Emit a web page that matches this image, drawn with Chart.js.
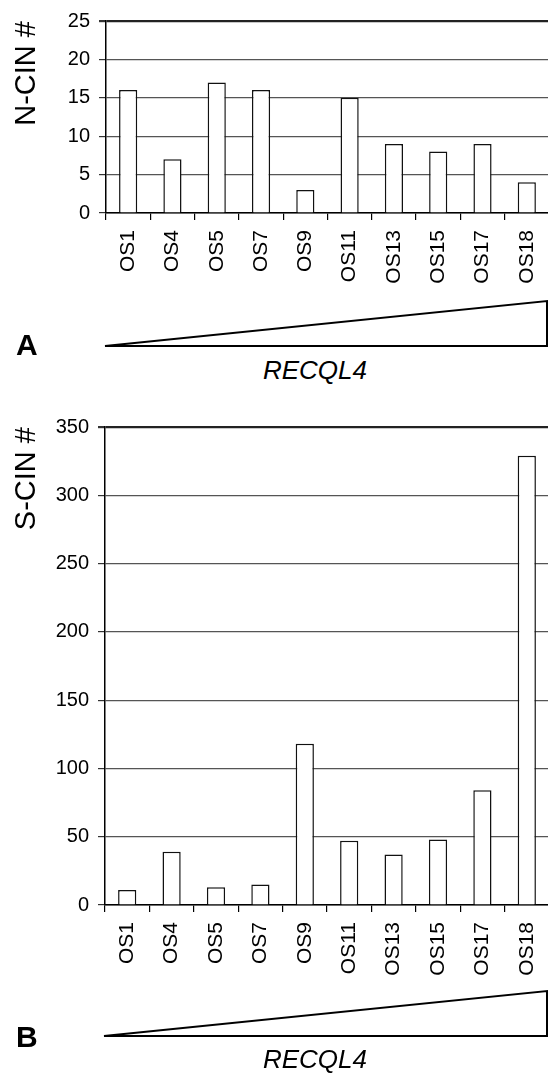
<!DOCTYPE html>
<html>
<head>
<meta charset="utf-8">
<script src="https://cdn.jsdelivr.net/npm/chart.js@4.4.1/dist/chart.umd.min.js"></script>
<style>
  html, body { margin: 0; padding: 0; width: 548px; height: 1074px; overflow: hidden; background: #fff; }
  body { position: relative; font-family: 'Liberation Sans', Arial, sans-serif; color: #000; }
  canvas { position: absolute; left: 0; }
  .panel { position: absolute; font-weight: bold; font-size: 30px; line-height: 30px; }
  .gene { position: absolute; width: 200px; text-align: center; font-style: italic; font-size: 26px; line-height: 26px; }
</style>
</head>
<body>
<canvas id="chartA" width="562" height="355" style="top:0"></canvas>
<canvas id="chartB" width="562" height="674" style="top:400px"></canvas>
<div class="panel" style="left:16px; top:330px">A</div>
<div class="gene" style="left:215px; top:357px">RECQL4</div>
<div class="panel" style="left:16px; top:1022px">B</div>
<div class="gene" style="left:215px; top:1046px">RECQL4</div>
<script>
// cell lines, ordered by RECQL4 expression
const cellLines = ['OS1', 'OS4', 'OS5', 'OS7', 'OS9', 'OS11', 'OS13', 'OS15', 'OS17', 'OS18'];
// numerical CIN (panel A)
const nCin = [16, 7, 17, 16, 3, 15, 9, 8, 9, 4];
// structural CIN (panel B)
const sCin = [11, 39, 13, 15, 118, 47, 37, 48, 84, 329];

const FONT = "'Liberation Sans', Arial, sans-serif";
Chart.defaults.color = '#000';
Chart.defaults.font.family = FONT;

// wedge under the x labels (RECQL4 rising left to right)
const wedge = {
    id: 'wedge',
    afterDraw(chart, args, opts) {
        const { ctx, chartArea } = chart;
        const yBase = chartArea.bottom + opts.base;
        const yTop = chartArea.bottom + opts.top;
        const xRight = chart.width - opts.inset;
        ctx.save();
        ctx.beginPath();
        ctx.moveTo(chartArea.left - 1, yBase);
        ctx.lineTo(xRight, yBase);
        ctx.lineTo(xRight, yTop);
        ctx.closePath();
        ctx.lineWidth = 2;
        ctx.strokeStyle = '#000';
        ctx.stroke();
        ctx.restore();
    }
};

function makeChart(id, values, title, yMax, step, opt) {
    return new Chart(document.getElementById(id), {
        type: 'bar',
        data: {
            labels: cellLines,
            datasets: [{
                data: values,
                backgroundColor: '#fff',
                borderColor: '#111',
                borderWidth: 1.5,
                categoryPercentage: 1,
                barPercentage: 0.41
            }]
        },
        plugins: [wedge],
        options: {
            responsive: false,
            animation: false,
            layout: { padding: { top: opt.padTop, bottom: opt.padBottom, left: 0, right: 0 } },
            plugins: {
                legend: { display: false },
                tooltip: { enabled: false },
                wedge: { base: opt.wedgeBase, top: opt.wedgeTop, inset: 15 }
            },
            scales: {
                x: {
                    afterFit: (s) => { s.height = 80; },
                    grid: {
                        offset: true,
                        drawOnChartArea: false,
                        tickLength: 7,
                        color: '#000',
                        lineWidth: 1.2
                    },
                    border: { display: true, color: '#000', width: 1.5 },
                    ticks: {
                        minRotation: 90,
                        maxRotation: 90,
                        padding: 10,
                        font: { size: 21 }
                    }
                },
                y: {
                    min: 0,
                    max: yMax,
                    afterFit: (s) => { s.width = opt.axisLeft; },
                    grid: {
                        tickLength: 7,
                        color: (c) => c.tick && c.tick.value === yMax ? '#222' : '#555',
                        lineWidth: (c) => c.tick && c.tick.value === yMax ? 2.2 : 1.2,
                        tickColor: '#333'
                    },
                    border: { display: true, color: '#000', width: 1.5 },
                    ticks: {
                        stepSize: step,
                        padding: 9,
                        font: { size: 20 }
                    },
                    title: {
                        display: true,
                        text: title,
                        align: 'end',
                        padding: { top: 10, bottom: 0 },
                        font: { size: 29 }
                    }
                }
            }
        }
    });
}

makeChart('chartA', nCin, 'N-CIN #', 25, 5,
    { padTop: 20, padBottom: 62, axisLeft: 106, wedgeBase: 133, wedgeTop: 88 });
makeChart('chartB', sCin, 'S-CIN #', 350, 50,
    { padTop: 27, padBottom: 89, axisLeft: 105, wedgeBase: 131, wedgeTop: 86 });
</script>
</body>
</html>
